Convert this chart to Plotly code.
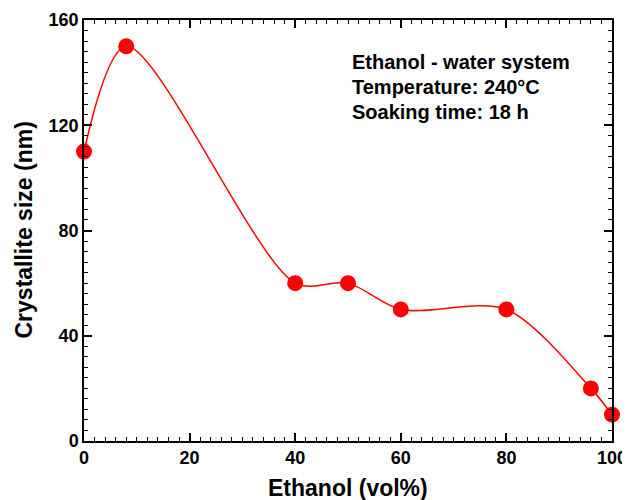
import plotly.graph_objects as go

ethanol = [0, 8, 40, 50, 60, 80, 96, 100]
size_nm = [110, 150, 60, 60, 50, 50, 20, 10]
x_ticks = [0, 20, 40, 60, 80, 100]
y_ticks = [0, 40, 80, 120, 160]
info_lines = ["Ethanol - water system", "Temperature: 240°C", "Soaking time: 18 h"]

FONT = "Liberation Sans, Arial, Helvetica, sans-serif"

# page has an 8px body margin; work in page pixels then convert
OFF = 8
FIG_W, FIG_H = 630 - OFF, 500 - OFF
# plot area in page pixels: x 84..612, y 20..441
L, R, T, B = 84, 612, 20, 441
W, H = R - L, B - T

fig = go.Figure()
fig.add_trace(go.Scatter(
    x=ethanol, y=size_nm, mode="lines",
    line=dict(color="#ff0000", width=1.5, shape="spline", smoothing=0.85),
    hoverinfo="skip", showlegend=False))
fig.add_trace(go.Scatter(
    x=ethanol, y=size_nm, mode="markers",
    marker=dict(color="#ff0000", size=16, line=dict(width=0)),
    showlegend=False, cliponaxis=False))

axis_common = dict(
    showline=True, linecolor="black", linewidth=1.5, mirror="allticks",
    ticks="inside", ticklen=8, tickwidth=1.5, tickcolor="black",
    showgrid=False, zeroline=False, automargin=False,
    tickfont=dict(family=FONT, size=18, color="black"),
)

fig.update_xaxes(
    range=[0, 100], tickvals=x_ticks, ticktext=[f"<b>{v}</b>" for v in x_ticks],
    minor=dict(dtick=2, ticks="inside", ticklen=4, tickwidth=1, tickcolor="black"),
    **axis_common)
fig.update_yaxes(
    range=[0, 160], tickvals=y_ticks, ticktext=[f"<b>{v}</b>" for v in y_ticks],
    minor=dict(dtick=4, ticks="inside", ticklen=4, tickwidth=1, tickcolor="black"),
    **axis_common)

# axis titles
fig.add_annotation(
    x=0.5, y=(B - 488) / H, xref="paper", yref="paper", xanchor="center", yanchor="middle",
    text="<b>Ethanol (vol%)</b>", showarrow=False,
    font=dict(family=FONT, size=23, color="black"))
fig.add_annotation(
    x=(23 - L) / W, y=0.5, xref="paper", yref="paper", xanchor="center", yanchor="middle",
    text="<b>Crystallite size (nm)</b>", showarrow=False, textangle=-90,
    font=dict(family=FONT, size=23, color="black"))

# info text
for i, line in enumerate(info_lines):
    py = 62 + 25 * i
    fig.add_annotation(
        x=(350 - L) / W, y=(B - py) / H, xref="paper", yref="paper",
        xanchor="left", yanchor="middle",
        text=f"<b>{line}</b>", showarrow=False, align="left",
        font=dict(family=FONT, size=20, color="black"))

fig.update_layout(
    width=FIG_W, height=FIG_H,
    margin=dict(l=L - OFF, r=630 - R, t=T - OFF, b=500 - B),
    plot_bgcolor="white", paper_bgcolor="white",
)

fig.write_html("out.html")
